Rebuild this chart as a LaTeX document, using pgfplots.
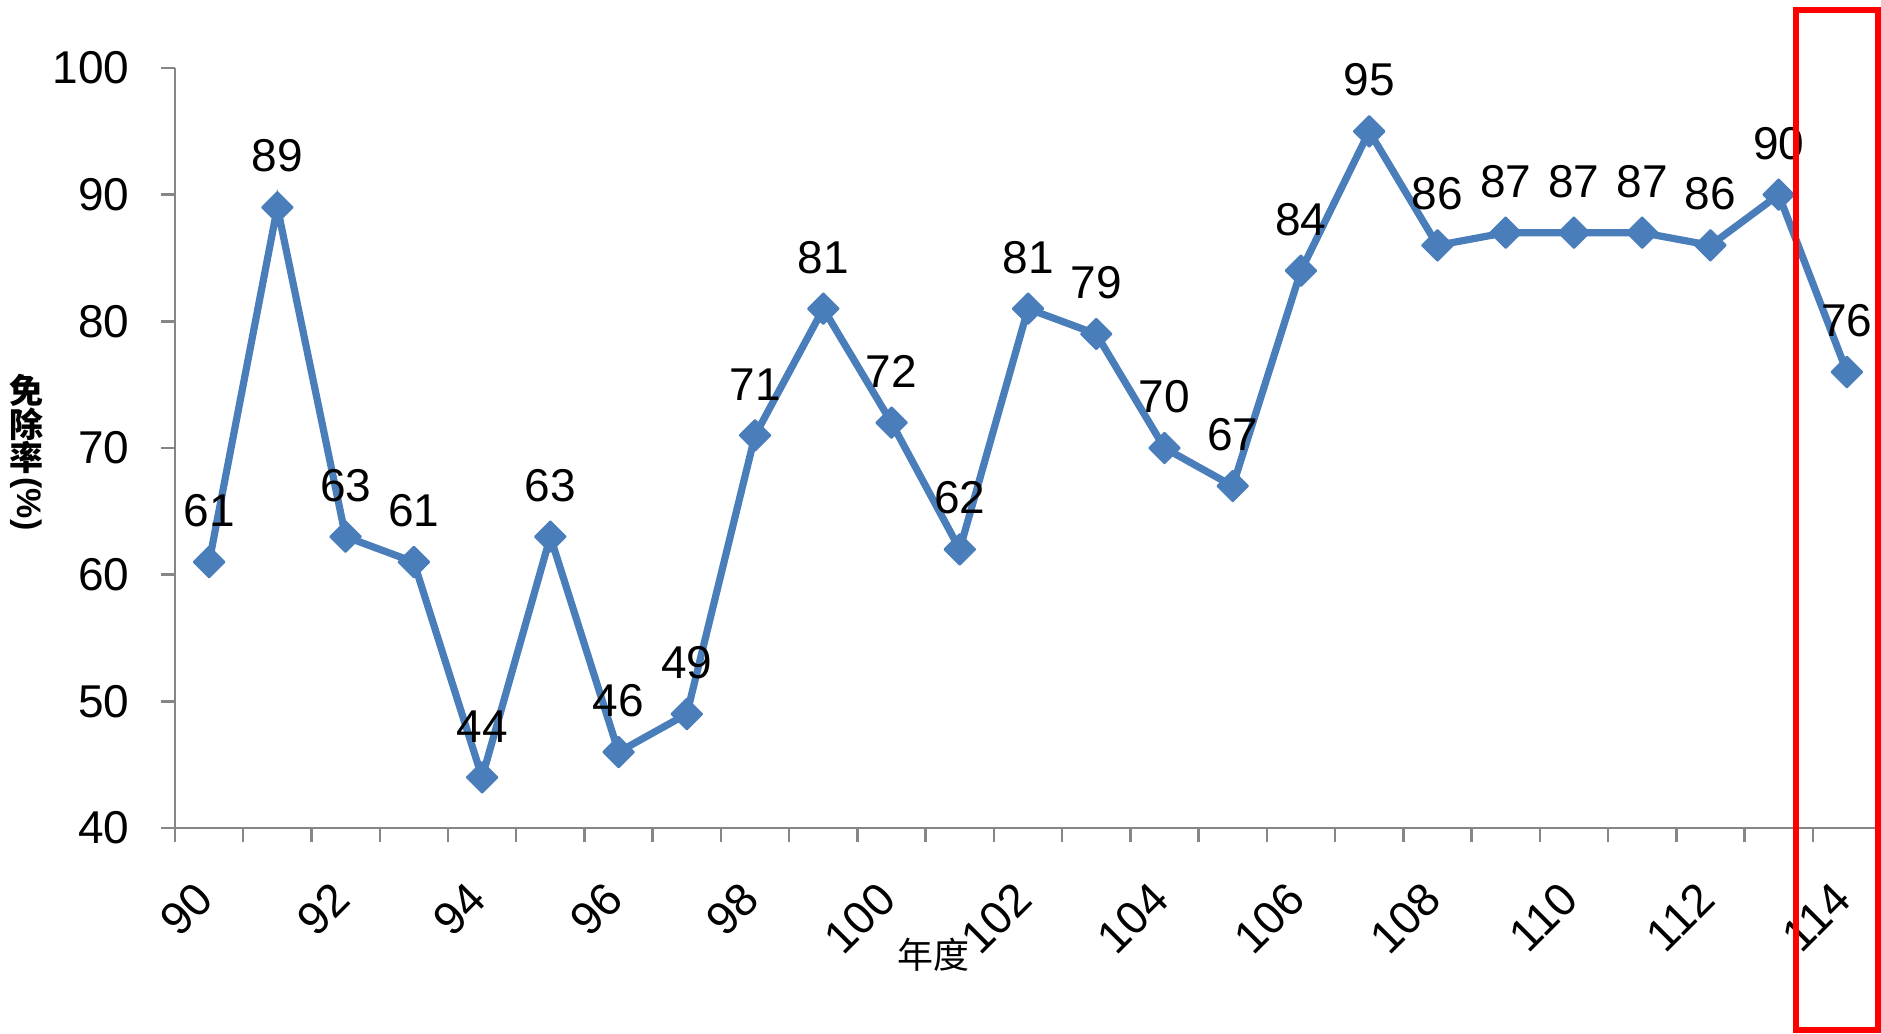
\documentclass[border=0pt]{standalone}
\usepackage{pgfplots}
\pgfplotsset{compat=1.18}
\usepackage{fontspec}
\setmainfont{Liberation Sans}
\newfontfamily\cjk{Noto Sans CJK TC}
\definecolor{lineblue}{HTML}{4A7EBB}
\definecolor{axgray}{HTML}{868686}
\begin{document}
\begin{tikzpicture}
\begin{axis}[
  scale only axis, width=426.5pt, height=190pt,
  at={(0,0)}, anchor=south west,
  xmin=-0.5, xmax=24.5, ymin=40, ymax=100,
  axis lines*=left,
  axis line style={axgray, line width=0.6pt},
  tick align=outside,
  xtick={0,2,...,24},
  xticklabels={90,92,94,96,98,100,102,104,106,108,110,112,114},
  minor xtick={-0.5,0.5,...,24.5},
  major x tick style={draw=none},
  minor x tick style={axgray, line width=0.6pt},
  minor tick length=3.4pt,
  major tick length=3.4pt,
  ytick={40,50,...,100},
  major y tick style={axgray, line width=0.6pt},
  tick label style={font=\fontsize{11.5}{13}\selectfont, text=black},
  xticklabel style={xshift=-1pt, yshift=-12.25pt, rotate=45, anchor=east, inner sep=0pt},
  yticklabel style={anchor=east, inner sep=0pt, xshift=-7.85pt},
  /pgf/number format/assume math mode=true,
  clip=false,
]
\addplot[color=lineblue, line width=1.8pt, mark=square*, mark size=2.7pt,
  mark options={rotate=45, fill=lineblue, draw=lineblue, line width=0.5pt, line join=round},
  nodes near coords,
  every node near coord/.append style={font=\fontsize{11.5}{13}\selectfont, text=black, anchor=south, inner sep=0pt, yshift=8.5pt},
] coordinates {
(0,61) (1,89) (2,63) (3,61) (4,44) (5,63) (6,46) (7,49) (8,71) (9,81)
(10,72) (11,62) (12,81) (13,79) (14,70) (15,67) (16,84) (17,95) (18,86) (19,87)
(20,87) (21,87) (22,86) (23,90) (24,76)
};
\end{axis}
\node[font=\cjk\bfseries\fontsize{8.5}{8.3}\selectfont, align=center, inner sep=0pt] at (-37.1pt,101pt)
  {免\\除\\率};
\node[font=\bfseries\fontsize{8.5}{9}\selectfont, rotate=-90, inner sep=0pt] at (-37.1pt,81pt) {(\%)};
\node[font=\cjk\fontsize{9}{10}\selectfont, inner sep=0pt] at (189.5pt,-31.75pt) {年度};
\draw[red, line width=1.5pt] (405.25pt,-50.5pt) rectangle (425.75pt,204.5pt);
\pgfresetboundingbox
\path (-43.75pt,-51.25pt) rectangle (426.5pt,207pt);
\end{tikzpicture}
\end{document}
